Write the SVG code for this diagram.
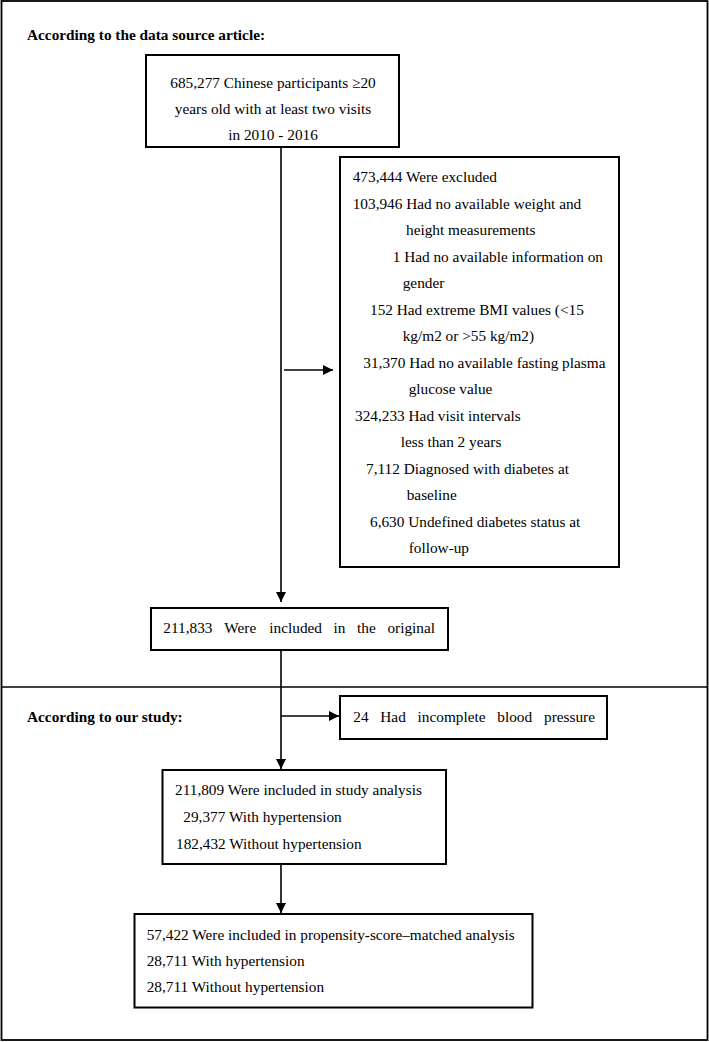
<svg xmlns="http://www.w3.org/2000/svg" width="709" height="1042" viewBox="0 0 709 1042">
<style>
text{font-family:"Liberation Serif","Times New Roman",serif;font-size:15.3px;fill:#000}
.h{font-weight:bold}
.box{fill:#fff;stroke:#000;stroke-width:2}
.ln{stroke:#000;stroke-width:1.6;fill:none}
</style>
<defs>
<marker id="ah" markerWidth="10" markerHeight="10" refX="10" refY="5" orient="auto" markerUnits="userSpaceOnUse">
<path d="M0,0 L10,5 L0,10 Z" fill="#000"/>
</marker>
</defs>
<rect x="0" y="0" width="709" height="1042" fill="#fff"/>
<g id="frame">
<rect x="1.5" y="1" width="706" height="1039" fill="none" stroke="#000" stroke-width="1.8"/>
<line x1="1.5" y1="687" x2="707.5" y2="687" stroke="#000" stroke-width="1.6"/>
</g>
<g id="headers">
<text class="h" x="27" y="40">According to the data source article:</text>
<text class="h" x="27" y="722">According to our study:</text>
</g>
<g id="connectors">
<line class="ln" x1="281" y1="147" x2="281" y2="602" marker-end="url(#ah)"/>
<line class="ln" x1="284" y1="370" x2="333" y2="370" marker-end="url(#ah)"/>
<line class="ln" x1="281" y1="650" x2="281" y2="769" marker-end="url(#ah)"/>
<line class="ln" x1="281" y1="716" x2="339" y2="716" marker-end="url(#ah)"/>
<line class="ln" x1="281" y1="864" x2="281" y2="913" marker-end="url(#ah)"/>
</g>
<g id="n-start">
<rect class="box" x="146" y="55" width="253" height="92"/>
<text x="273" y="88" text-anchor="middle">685,277 Chinese participants ≥20</text>
<text x="273" y="114" text-anchor="middle">years old with at least two visits</text>
<text x="273" y="140" text-anchor="middle">in 2010 - 2016</text>
</g>
<g id="n-excluded">
<rect class="box" x="340" y="157" width="279" height="410"/>
<text x="352.7" y="182">473,444 Were excluded</text>
<text x="352.7" y="208.5">103,946 Had no available weight and</text>
<text x="406" y="235">height measurements</text>
<text x="392.7" y="261.5">1 Had no available information on</text>
<text x="402.7" y="288">gender</text>
<text x="370" y="314.5">152 Had extreme BMI values (&lt;15</text>
<text x="402.7" y="341">kg/m2 or &gt;55 kg/m2)</text>
<text x="363.3" y="367.5">31,370 Had no available fasting plasma</text>
<text x="408.7" y="394">glucose value</text>
<text x="355" y="420.5">324,233 Had visit intervals</text>
<text x="400.7" y="447">less than 2 years</text>
<text x="366" y="473.5">7,112 Diagnosed with diabetes at</text>
<text x="406.7" y="500">baseline</text>
<text x="370" y="526.5">6,630 Undefined diabetes status at</text>
<text x="408.7" y="553">follow-up</text>
</g>
<g id="n-original">
<rect class="box" x="151" y="608" width="297" height="42"/>
<text y="633"><tspan x="163.3">211,833</tspan><tspan x="220.8"> Were</tspan><tspan x="265.5"> included</tspan><tspan x="329.8"> in</tspan><tspan x="353.3"> the</tspan><tspan x="383.6"> original</tspan></text>
</g>
<g id="n-bp">
<rect class="box" x="340" y="696" width="267" height="43"/>
<text y="722"><tspan x="353.3">24</tspan><tspan x="376.5"> Had</tspan><tspan x="413.8"> incomplete</tspan><tspan x="493.5"> blood</tspan><tspan x="540.2"> pressure</tspan></text>
</g>
<g id="n-study">
<rect class="box" x="162.5" y="770" width="283.5" height="94"/>
<text x="175" y="795">211,809 Were included in study analysis</text>
<text x="183.3" y="822">29,377 With hypertension</text>
<text x="176" y="849">182,432 Without hypertension</text>
</g>
<g id="n-psm">
<rect class="box" x="134.5" y="914" width="398" height="93.5"/>
<text x="146.7" y="940">57,422 Were included in propensity-score–matched analysis</text>
<text x="146.7" y="966">28,711 With hypertension</text>
<text x="146.7" y="992">28,711 Without hypertension</text>
</g>
</svg>
